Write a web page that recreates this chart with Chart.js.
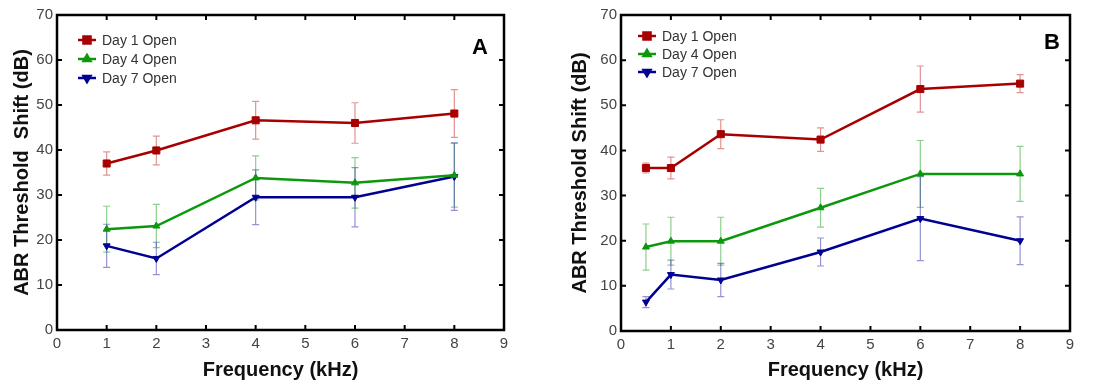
<!DOCTYPE html>
<html>
<head>
<meta charset="utf-8">
<script src="https://cdn.jsdelivr.net/npm/chart.js@4/dist/chart.umd.min.js"></script>
<style>
  html, body { margin: 0; padding: 0; background: #fff; }
  #wrap { position: relative; width: 1101px; height: 385px; }
  .panel { position: absolute; top: 0; height: 385px; }
</style>
</head>
<body>
<div id="wrap">
  <div class="panel" style="left:0;width:550px"><canvas id="chartA" width="550" height="385"></canvas></div>
  <div class="panel" style="left:550px;width:551px"><canvas id="chartB" width="551" height="385"></canvas></div>
</div>
<script>
// panel A
var freqA   = [1, 2, 4, 6, 8]
var day1A   = [37.0, 39.9, 46.6, 46.0, 48.1]
var day1ErrA = [2.6, 3.2, 4.2, 4.5, 5.3]
var day4A   = [22.4, 23.1, 33.8, 32.7, 34.4]
var day4ErrA = [5.1, 4.8, 4.9, 5.6, 7.1]
var day7A   = [18.7, 15.9, 29.5, 29.5, 34.1]
var day7ErrA = [4.8, 3.6, 6.1, 6.6, 7.5]

// panel B
var freqB   = [0.5, 1, 2, 4, 6, 8]
var day1B   = [36.1, 36.1, 43.6, 42.4, 53.6, 54.8]
var day1ErrB = [1.1, 2.4, 3.2, 2.6, 5.1, 2.0]
var day4B   = [18.6, 19.9, 19.9, 27.3, 34.8, 34.8]
var day4ErrB = [5.1, 5.3, 5.3, 4.3, 7.4, 6.1]
var day7B   = [6.4, 12.5, 11.3, 17.5, 24.9, 20.0]
var day7ErrB = [1.2, 3.2, 3.7, 3.1, 9.3, 5.3]

var seriesNames = ['Day 1 Open', 'Day 4 Open', 'Day 7 Open']
var xTicks = [0, 1, 2, 3, 4, 5, 6, 7, 8, 9]
var yTicks = [0, 10, 20, 30, 40, 50, 60, 70]

var
    colors    = ['#a80000', '#0c980c', '#000092']
  , errColors = ['rgba(200,40,40,0.5)', 'rgba(30,160,30,0.5)', 'rgba(40,40,170,0.5)']
  , styles    = [
        { pointStyle: 'rect', radius: 5, rotation: 0 }
      , { pointStyle: 'triangle', radius: 4, rotation: 0 }
      , { pointStyle: 'triangle', radius: 4, rotation: 180 }
    ]

var toPoints = function (xs, ys) {
  return xs.map(function (x, i) { return { x: x, y: ys[i] } })
}

var makeDataset = function (i, xs, ys, errs) {
  return {
      label            : seriesNames[i]
    , data             : toPoints(xs, ys)
    , errors           : errs
    , borderColor      : colors[i]
    , backgroundColor  : colors[i]
    , borderWidth      : 2.5
    , pointStyle       : styles[i].pointStyle
    , pointRadius      : styles[i].radius
    , pointRotation    : styles[i].rotation
    , pointBorderWidth : 1
    , tension          : 0
  }
}

// error bars, drawn through the scales
var errorBars = {
  id: 'errorBars',
  beforeDatasetsDraw: function (chart) {
    var ctx = chart.ctx, y = chart.scales.y
    chart.data.datasets.forEach(function (ds, i) {
      var meta = chart.getDatasetMeta(i)
      ctx.save()
      ctx.strokeStyle = errColors[i]
      ctx.lineWidth = 1.2
      meta.data.forEach(function (pt, j) {
        var v = ds.data[j].y, e = ds.errors[j]
        var top = y.getPixelForValue(v + e), bot = y.getPixelForValue(v - e)
        ctx.beginPath()
        ctx.moveTo(pt.x, top); ctx.lineTo(pt.x, bot)
        ctx.moveTo(pt.x - 3.5, top); ctx.lineTo(pt.x + 3.5, top)
        ctx.moveTo(pt.x - 3.5, bot); ctx.lineTo(pt.x + 3.5, bot)
        ctx.stroke()
      })
      ctx.restore()
    })
  }
}

// box frame with inward ticks on all four sides
var frame = {
  id: 'frame',
  afterDraw: function (chart) {
    var
        ctx = chart.ctx
      , a   = chart.chartArea
      , xs  = chart.scales.x
      , ys  = chart.scales.y
      , len = 5
    ctx.save()
    ctx.strokeStyle = '#000'
    ctx.lineWidth = 2
    xTicks.forEach(function (t) {
      var px = xs.getPixelForValue(t)
      ctx.beginPath()
      ctx.moveTo(px, a.bottom); ctx.lineTo(px, a.bottom - len)
      ctx.moveTo(px, a.top); ctx.lineTo(px, a.top + len)
      ctx.stroke()
    })
    yTicks.forEach(function (t) {
      var py = ys.getPixelForValue(t)
      ctx.beginPath()
      ctx.moveTo(a.left, py); ctx.lineTo(a.left + len, py)
      ctx.moveTo(a.right, py); ctx.lineTo(a.right - len, py)
      ctx.stroke()
    })
    ctx.lineWidth = 2.5
    ctx.strokeRect(a.left, a.top, a.right - a.left, a.bottom - a.top)
    ctx.restore()
  }
}

// legend inside the plot, line with marker
var insideLegend = {
  id: 'insideLegend',
  afterDraw: function (chart, args, opts) {
    var ctx = chart.ctx
    ctx.save()
    ctx.font = '14px "Liberation Sans", Arial, sans-serif'
    ctx.textBaseline = 'middle'
    chart.data.datasets.forEach(function (ds, i) {
      var yy = opts.y + i * opts.step
      ctx.strokeStyle = colors[i]
      ctx.lineWidth = 2.5
      ctx.beginPath()
      ctx.moveTo(opts.x, yy); ctx.lineTo(opts.x + 18, yy)
      ctx.stroke()
      ctx.fillStyle = colors[i]
      Chart.helpers.drawPoint(ctx, {
          pointStyle : styles[i].pointStyle
        , radius     : styles[i].radius
        , rotation   : styles[i].rotation
        , borderWidth: 1
      }, opts.x + 9, yy)
      ctx.fillStyle = '#333'
      ctx.fillText(ds.label, opts.x + 24, yy + 1)
    })
    ctx.font = 'bold 22px "Liberation Sans", Arial, sans-serif'
    ctx.fillStyle = '#000'
    ctx.textAlign = 'center'
    ctx.fillText(opts.letter, opts.lx, opts.ly)
    ctx.restore()
  }
}

var buildChart = function (id, xs, sets, conf) {
  var tickFont = { family: '"Liberation Sans", Arial, sans-serif', size: 15 }
  var titleFont = { family: '"Liberation Sans", Arial, sans-serif', size: 20, weight: 'bold' }
  return new Chart(document.getElementById(id), {
      type: 'line'
    , data: {
        datasets: sets.map(function (s, i) { return makeDataset(i, xs, s[0], s[1]) })
      }
    , options: {
        responsive : false
      , animation  : false
      , layout     : { padding: { left: 0, top: 15, right: conf.right, bottom: 0 } }
      , plugins    : {
          legend  : { display: false }
        , tooltip : { enabled: false }
        , insideLegend: conf.legend
      }
      , scales: {
          x: {
              type  : 'linear'
            , min   : 0
            , max   : 9
            , grid  : { display: false, drawTicks: false }
            , border: { display: false }
            , afterBuildTicks: function (s) { s.ticks = xTicks.map(function (v) { return { value: v } }) }
            , afterFit: function (s) { s.height = conf.xHeight }
            , ticks : { autoSkip: false, maxRotation: 0, padding: 5, color: '#444', font: tickFont }
            , title : { display: true, text: 'Frequency (kHz)', color: '#111', font: titleFont, padding: { top: 0, bottom: 3 } }
          }
        , y: {
              min   : 0
            , max   : 70
            , grid  : { display: false, drawTicks: false }
            , border: { display: false }
            , afterBuildTicks: function (s) { s.ticks = yTicks.map(function (v) { return { value: v } }) }
            , afterFit: function (s) { s.width = conf.yWidth }
            , ticks : { autoSkip: false, padding: 4, color: '#444', font: tickFont }
            , title : { display: true, text: conf.yTitle, color: '#111', font: titleFont, padding: { top: conf.yTitlePad, bottom: 0 } }
          }
      }
    }
    , plugins: [errorBars, frame, insideLegend]
  })
}

buildChart('chartA', freqA, [[day1A, day1ErrA], [day4A, day4ErrA], [day7A, day7ErrA]], {
    right: 46, xHeight: 55, yWidth: 57, yTitlePad: 10
  , yTitle: 'ABR Threshold  Shift (dB)'
  , legend: { x: 78, y: 40, step: 19, letter: 'A', lx: 480, ly: 48 }
})

buildChart('chartB', freqB, [[day1B, day1ErrB], [day4B, day4ErrB], [day7B, day7ErrB]], {
    right: 31, xHeight: 54, yWidth: 71, yTitlePad: 18
  , yTitle: 'ABR Threshold Shift (dB)'
  , legend: { x: 88, y: 36, step: 18, letter: 'B', lx: 502, ly: 43 }
})
</script>
</body>
</html>
